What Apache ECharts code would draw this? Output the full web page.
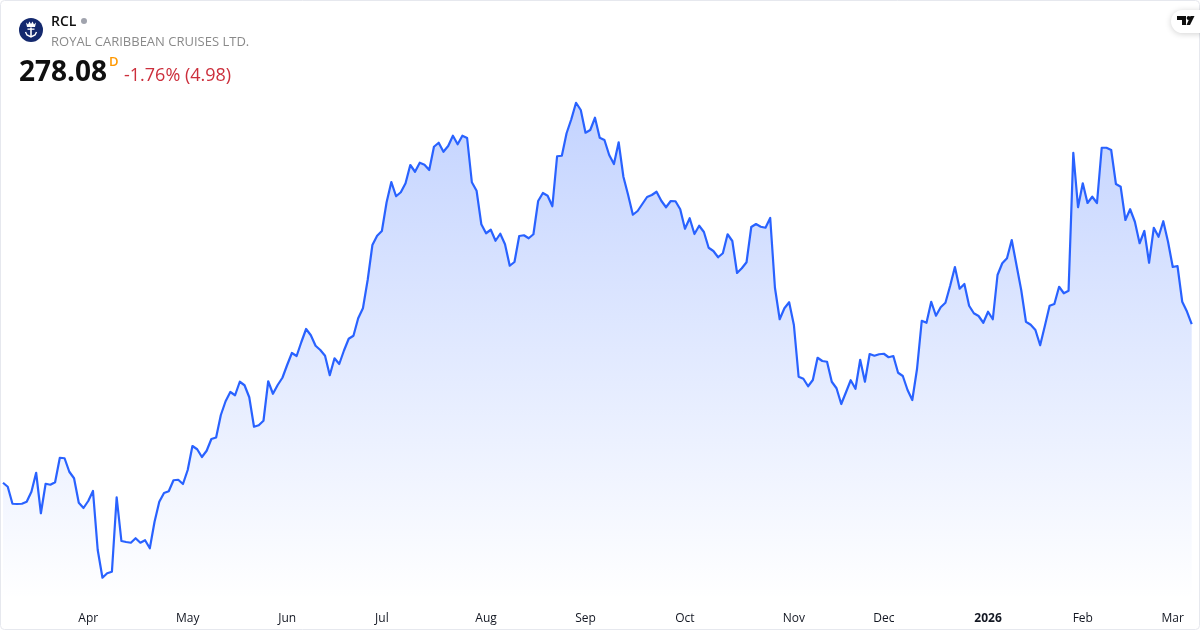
<!DOCTYPE html>
<html>
<head>
<meta charset="utf-8">
<title>RCL</title>
<script src="https://cdn.jsdelivr.net/npm/echarts@6/dist/echarts.min.js"></script>
<style>
html,body{margin:0;padding:0;background:#fff;}
#chart{width:1200px;height:630px;}
</style>
</head>
<body>
<div id="chart"></div>
<script>
// daily closes
var closes = [
214.6,213.0,206.2,206.1,206.2,207.0,211.0,218.6,202.4,214.2,213.8,214.8,224.6,224.4,219.0,216.4,206.6,204.5,207.3,211.3,
187.7,176.6,178.4,179.0,208.8,191.3,190.9,190.6,192.4,190.6,191.6,188.4,199.0,207.0,210.5,211.2,215.6,215.8,214.1,219.7,
229.3,228.0,224.9,227.4,232.1,232.7,241.7,247.2,250.9,249.6,255.0,253.6,248.8,237.0,237.6,239.4,255.2,250.2,253.7,256.6,
261.7,266.5,265.3,270.9,276.1,273.6,269.4,267.7,265.4,257.6,264.4,262.1,267.5,272.2,273.4,280.4,284.4,295.7,309.7,313.4,
315.3,326.8,334.9,329.2,330.8,334.4,341.7,339.0,342.6,341.8,339.7,349.0,350.6,347.0,349.3,353.4,350.0,353.4,352.5,334.8,
331.4,318.0,314.4,315.8,311.4,314.2,310.0,301.4,302.9,313.3,313.6,312.4,314.0,327.3,330.5,329.4,325.2,345.2,345.4,354.4,
360.0,366.6,363.7,354.6,355.7,360.6,352.6,351.7,345.7,342.1,350.8,337.0,329.7,321.8,323.3,326.1,328.9,329.7,331.0,327.4,
324.8,327.3,327.2,324.0,316.2,320.4,314.1,317.4,314.9,308.6,307.3,304.8,306.4,314.0,311.3,298.5,300.4,302.8,316.9,318.1,
317.0,316.6,320.5,292.6,280.0,284.4,286.8,277.7,257.0,256.2,253.2,255.7,264.6,263.3,263.0,255.0,252.4,246.1,250.8,255.6,
252.2,263.8,255.0,266.1,265.4,266.0,266.2,264.8,265.3,258.6,257.3,251.7,247.7,260.1,279.4,278.6,287.0,281.4,284.8,286.6,
293.4,300.9,292.2,294.1,285.4,282.4,281.3,278.6,283.0,280.0,297.7,302.4,304.4,311.7,301.7,291.7,279.0,277.8,275.7,269.6,
277.4,285.4,286.1,293.0,290.4,291.4,346.6,324.8,334.4,326.5,329.0,326.5,348.6,348.6,347.7,334.1,333.0,319.7,324.0,319.0,
310.4,315.3,302.6,316.6,313.0,319.2,311.0,300.9,301.3,287.0,283.06,278.08
];

// first trading day of each month, as an index into closes
var tickIndex = [18,39,60,80,102,123,144,167,186,208,228,247];
var tickLabels = ['Apr','May','Jun','Jul','Aug','Sep','Oct','Nov','Dec','2026','Feb','Mar'];

var categories = [];
for (var i = 0; i < closes.length; i++) {
    var t = tickIndex.indexOf(i);
    if (t == -1) {
        categories.push('');
    } else if (tickLabels[t] == '2026') {
        categories.push({value: tickLabels[t], textStyle: {fontWeight: 'bold'}});
    } else {
        categories.push(tickLabels[t]);
    }
}

var font = '"Open Sans", "Noto Sans", sans-serif';
var myChart = echarts.init(document.getElementById('chart'), null, {renderer: 'canvas'});

var option = {
    backgroundColor: '#fff',
    animation: false,
    grid: {left: 2.4, right: 8.3, top: 0, bottom: 30},
    xAxis: {
        type: 'category',
        data: categories,
        boundaryGap: false,
        axisLine: {show: false},
        axisTick: {show: false},
        splitLine: {show: false},
        axisLabel: {interval: 0, margin: 13, color: '#131722', fontSize: 12, fontFamily: font}
    },
    yAxis: {
        type: 'value',
        show: false,
        min: 167.7,
        max: 407.7,
        splitLine: {show: false}
    },
    series: [{
        type: 'line',
        data: closes,
        showSymbol: false,
        smooth: false,
        clip: false,
        lineStyle: {color: '#2962FF', width: 2.2, join: 'round'},
        areaStyle: {
            opacity: 1,
            color: new echarts.graphic.LinearGradient(0, 0, 0, 1, [
                {offset: 0, color: 'rgba(41,98,255,0.28)'},
                {offset: 1, color: 'rgba(41,98,255,0)'}
            ])
        }
    }],
    graphic: [
        // card border
        {type: 'rect', z: 10, silent: true, shape: {x: 0.5, y: 0.5, width: 1199, height: 629, r: 4}, style: {fill: 'none', stroke: '#e6e8ee', lineWidth: 1}},
        // logo
        {type: 'circle', z: 10, shape: {cx: 31, cy: 30, r: 12}, style: {fill: '#14296e'}},
        {type: 'polygon', z: 11, shape: {points: [[26, 22.5], [28, 24.5], [29.5, 21.5], [31, 24], [32.5, 21.5], [34, 24.5], [36, 22.5], [35, 27], [27, 27]]}, style: {fill: '#fff'}},
        {type: 'rect', z: 11, shape: {x: 30.2, y: 27.5, width: 1.6, height: 9}, style: {fill: '#fff'}},
        {type: 'rect', z: 11, shape: {x: 27.5, y: 28.5, width: 7, height: 1.3}, style: {fill: '#fff'}},
        {type: 'polyline', z: 11, shape: {points: [[25.5, 32], [27, 35], [31, 37], [35, 35], [36.5, 32]]}, style: {fill: 'none', stroke: '#fff', lineWidth: 1.4}},
        // header text
        {type: 'text', z: 11, x: 51, y: 22, style: {text: 'RCL', font: '600 14px ' + font, fill: '#0f0f0f', verticalAlign: 'middle'}},
        {type: 'circle', z: 11, shape: {cx: 84, cy: 21, r: 3}, style: {fill: '#a0a3ad'}},
        {type: 'text', z: 11, x: 51, y: 42, style: {text: 'ROYAL CARIBBEAN CRUISES LTD.', font: '13px ' + font, fill: '#8a8a8a', verticalAlign: 'middle'}},
        {type: 'text', z: 11, x: 19, y: 73, style: {text: '278.08', font: '700 28px ' + font, fill: '#0f0f0f', verticalAlign: 'middle'}},
        {type: 'text', z: 11, x: 109, y: 62, style: {text: 'D', font: '600 13px ' + font, fill: '#ff9800', verticalAlign: 'middle'}},
        {type: 'text', z: 11, x: 124, y: 76, style: {text: '-1.76% (4.98)', font: '18px ' + font, fill: '#cc2f3c', verticalAlign: 'middle'}},
        // tradingview tab
        {type: 'rect', z: 10, shape: {x: 1171, y: 10, width: 40, height: 23, r: 11.5}, style: {fill: '#fff', shadowColor: 'rgba(0,0,0,0.18)', shadowBlur: 6, shadowOffsetY: 1}},
        {type: 'polygon', z: 11, shape: {points: [[1177, 16], [1186, 16], [1186, 25], [1182, 25], [1182, 20], [1177, 20]]}, style: {fill: '#0f0f0f'}},
        {type: 'circle', z: 11, shape: {cx: 1188.6, cy: 18, r: 2}, style: {fill: '#0f0f0f'}},
        {type: 'polygon', z: 11, shape: {points: [[1190.5, 16], [1194.5, 16], [1190, 25], [1186.5, 25]]}, style: {fill: '#0f0f0f'}}
    ]
};

myChart.setOption(option);
</script>
</body>
</html>
